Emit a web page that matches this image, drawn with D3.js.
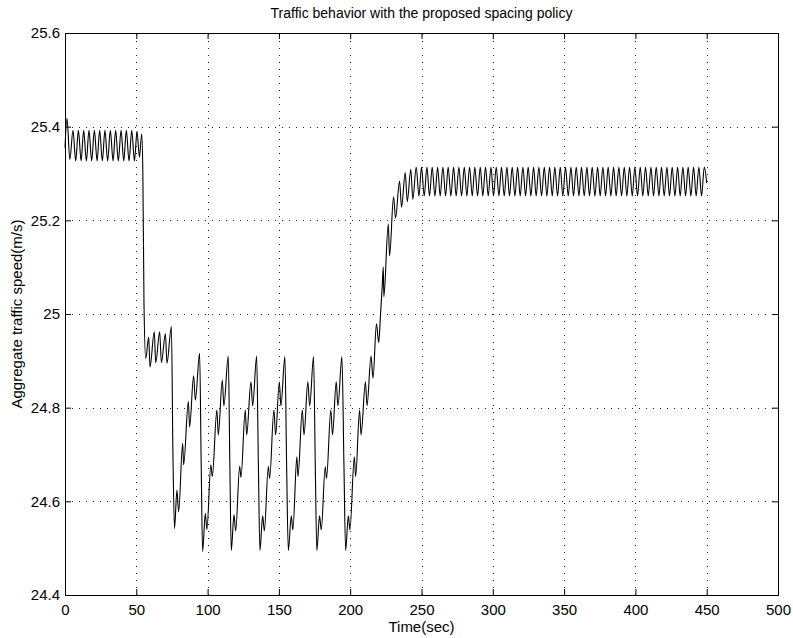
<!DOCTYPE html>
<html>
<head>
<meta charset="utf-8">
<script src="https://cdn.jsdelivr.net/npm/d3@7/dist/d3.min.js"></script>
<style>
  html, body { margin: 0; padding: 0; background: #fff; }
  svg { display: block; }
  text { font-family: "Liberation Sans", Arial, Helvetica, sans-serif; fill: #000; }
</style>
</head>
<body>
<svg id="chart" width="793" height="638"></svg>
<script>
// ---------- data ----------
const titleText = "Traffic behavior with the proposed spacing policy";
const xLabel = "Time(sec)";
const yLabel = "Aggregate traffic speed(m/s)";
const xTicks = [0, 50, 100, 150, 200, 250, 300, 350, 400, 450, 500];
const yTicks = [24.4, 24.6, 24.8, 25.0, 25.2, 25.4, 25.6];
const yTickLabels = ["24.4", "24.6", "24.8", "25", "25.2", "25.4", "25.6"];

// time (sec) of each turning point of the trace
const timeSec = [
  0.0, 1.4, 3.4, 5.6, 7.5, 9.4, 11.3, 13.1, 15.0, 16.8, 18.7, 20.6, 22.5, 24.3, 26.2, 28.0,
  29.9, 31.8, 33.7, 35.5, 37.4, 39.3, 41.2, 43.0, 44.9, 46.8, 48.7, 50.5, 52.2, 53.8, 54.6, 55.4, 56.6,
  58.7, 59.6, 62.6, 63.6, 66.4, 67.6, 70.4, 71.5, 74.6, 75.7, 76.8,
  78.5, 79.7, 82.5, 83.2, 86.5, 87.4, 90.2, 91.4, 94.4, 95.5, 96.5,
  98.4, 99.5, 102.3, 103.3, 106.5, 107.5, 110.3, 111.4, 114.5, 115.6, 116.6,
  118.5, 119.7, 122.5, 123.4, 126.4, 127.4, 130.4, 131.6, 134.4, 135.6, 136.7,
  138.6, 139.8, 142.6, 143.5, 146.5, 147.7, 150.3, 151.4, 154.2, 155.4, 156.6,
  158.7, 159.8, 162.6, 163.4, 166.4, 167.6, 170.3, 171.6, 174.3, 175.5, 176.6,
  178.5, 179.7, 182.5, 183.4, 186.4, 187.6, 190.2, 191.4, 194.2, 195.6, 196.8,
  198.7, 199.8, 202.9, 203.8, 206.6, 207.6, 210.7, 211.8, 214.6, 216.0, 218.4, 220.0,
  221.3, 222.5, 223.2, 223.6, 226.7, 227.6, 230.4, 231.8, 234.6, 236.0, 238.6, 240.0,
  242.5, 243.9, 246.3,
  248.2, 250.0, 251.9, 253.8, 255.6, 257.5, 259.4, 261.3, 263.1, 265.0, 266.9, 268.7,
  270.6, 272.5, 274.3, 276.2, 278.1, 280.0, 281.8, 283.7, 285.6, 287.4, 289.3, 291.2,
  293.0, 294.9, 296.8, 298.7, 300.5, 302.4, 304.3, 306.1, 308.0, 309.9, 311.7, 313.6,
  315.5, 317.4, 319.2, 321.1, 323.0, 324.8, 326.7, 328.6, 330.4, 332.3, 334.2, 336.1,
  337.9, 339.8, 341.7, 343.5, 345.4, 347.3, 349.1, 351.0, 352.9, 354.8, 356.6, 358.5,
  360.4, 362.2, 364.1, 366.0, 367.8, 369.7, 371.6, 373.5, 375.3, 377.2, 379.1, 380.9,
  382.8, 384.7, 386.5, 388.4, 390.3, 392.2, 394.0, 395.9, 397.8, 399.6, 401.5, 403.4,
  405.2, 407.1, 409.0, 410.9, 412.7, 414.6, 416.5, 418.3, 420.2, 422.1, 423.9, 425.8,
  427.7, 429.6, 431.4, 433.3, 435.2, 437.0, 438.9, 440.8, 442.6, 444.5, 446.4, 448.3, 450.0
];

// aggregate traffic speed (m/s) at those times
const speedMs = [
  25.355, 25.418, 25.330, 25.392, 25.327, 25.392, 25.327, 25.392, 25.327, 25.392, 25.327, 25.392, 25.327, 25.392, 25.327, 25.392,
  25.327, 25.392, 25.327, 25.392, 25.327, 25.392, 25.327, 25.392, 25.327, 25.392, 25.327, 25.390, 25.335, 25.385, 25.300, 25.020, 24.905,
  24.951, 24.887, 24.962, 24.896, 24.962, 24.896, 24.958, 24.895, 24.973, 24.700, 24.542,
  24.624, 24.578, 24.724, 24.678, 24.813, 24.759, 24.868, 24.816, 24.916, 24.680, 24.493,
  24.574, 24.540, 24.678, 24.653, 24.795, 24.742, 24.859, 24.804, 24.910, 24.680, 24.495,
  24.571, 24.537, 24.675, 24.651, 24.795, 24.742, 24.855, 24.804, 24.910, 24.680, 24.495,
  24.569, 24.537, 24.675, 24.649, 24.795, 24.742, 24.855, 24.804, 24.909, 24.680, 24.495,
  24.569, 24.539, 24.695, 24.653, 24.795, 24.742, 24.855, 24.804, 24.909, 24.680, 24.495,
  24.569, 24.539, 24.674, 24.649, 24.795, 24.742, 24.855, 24.804, 24.909, 24.680, 24.495,
  24.569, 24.539, 24.695, 24.653, 24.795, 24.742, 24.855, 24.804, 24.910, 24.863, 24.979, 24.939,
  25.001, 25.062, 25.101, 25.037, 25.192, 25.124, 25.250, 25.205, 25.284, 25.228, 25.302, 25.240,
  25.309, 25.245, 25.314,
  25.252, 25.314, 25.252, 25.314, 25.252, 25.314, 25.252, 25.314, 25.252, 25.314, 25.252, 25.314,
  25.252, 25.314, 25.252, 25.314, 25.252, 25.314, 25.252, 25.314, 25.252, 25.314, 25.252, 25.314,
  25.252, 25.314, 25.252, 25.314, 25.252, 25.314, 25.252, 25.314, 25.252, 25.314, 25.252, 25.314,
  25.252, 25.314, 25.252, 25.314, 25.252, 25.314, 25.252, 25.314, 25.252, 25.314, 25.252, 25.314,
  25.252, 25.314, 25.252, 25.314, 25.252, 25.314, 25.252, 25.314, 25.252, 25.314, 25.252, 25.314,
  25.252, 25.314, 25.252, 25.314, 25.252, 25.314, 25.252, 25.314, 25.252, 25.314, 25.252, 25.314,
  25.252, 25.314, 25.252, 25.314, 25.252, 25.314, 25.252, 25.314, 25.252, 25.314, 25.252, 25.314,
  25.252, 25.314, 25.252, 25.314, 25.252, 25.314, 25.252, 25.314, 25.252, 25.314, 25.252, 25.314,
  25.252, 25.314, 25.252, 25.314, 25.252, 25.314, 25.252, 25.314, 25.252, 25.314, 25.252, 25.314, 25.280
];

// ---------- drawing ----------
(function () {
  const svg = d3.select("#chart");
  const pL = 65, pR = 778, pT = 33, pB = 595;

  const x = d3.scaleLinear().domain([0, 500]).range([pL, pR]);
  const y = d3.scaleLinear().domain([24.4, 25.6]).range([pB, pT]);

  // grid (dotted)
  const grid = svg.append("g").attr("stroke", "#222").attr("stroke-width", 1)
    .attr("stroke-dasharray", "1,6").attr("shape-rendering", "crispEdges");
  grid.selectAll("line.vx").data(xTicks.slice(1, -1)).join("line")
    .attr("x1", d => Math.round(x(d)) + 0.5).attr("x2", d => Math.round(x(d)) + 0.5)
    .attr("y1", pB).attr("y2", pT);
  grid.selectAll("line.hy").data(yTicks.slice(1, -1)).join("line")
    .attr("x1", pL).attr("x2", pR)
    .attr("y1", d => Math.round(y(d)) + 0.5).attr("y2", d => Math.round(y(d)) + 0.5);

  // data line
  const pts = timeSec.map((t, i) => [t, speedMs[i]]);
  svg.append("path")
    .datum(pts)
    .attr("fill", "none")
    .attr("stroke", "#000")
    .attr("stroke-width", 1.1)
    .attr("d", d3.line().x(d => x(d[0])).y(d => y(d[1])).curve(d3.curveMonotoneX));

  // axes with inward ticks
  const fontSize = 15;
  const axB = svg.append("g").attr("transform", `translate(0,${pB})`)
    .call(d3.axisBottom(x).tickValues(xTicks).tickFormat(d3.format("d")).tickSize(-6).tickPadding(9));
  const axT = svg.append("g").attr("transform", `translate(0,${pT})`)
    .call(d3.axisTop(x).tickValues(xTicks).tickFormat("").tickSize(-6));
  const axL = svg.append("g").attr("transform", `translate(${pL},0)`)
    .call(d3.axisLeft(y).tickValues(yTicks).tickFormat((d, i) => yTickLabels[i]).tickSize(-6).tickPadding(5));
  const axR = svg.append("g").attr("transform", `translate(${pR},0)`)
    .call(d3.axisRight(y).tickValues(yTicks).tickFormat("").tickSize(-6));

  [axB, axT, axL, axR].forEach(g => {
    g.select(".domain").remove();
    g.selectAll("line").attr("stroke", "#000");
    g.selectAll("text").attr("font-size", fontSize)
      .attr("font-family", "'Liberation Sans', Arial, Helvetica, sans-serif").attr("fill", "#000");
  });

  // box
  svg.append("rect")
    .attr("x", pL + 0.5).attr("y", pT + 0.5)
    .attr("width", pR - pL).attr("height", pB - pT)
    .attr("fill", "none").attr("stroke", "#000").attr("stroke-width", 1)
    .attr("shape-rendering", "crispEdges");

  // title and labels
  svg.append("text").attr("x", (pL + pR) / 2).attr("y", 18)
    .attr("text-anchor", "middle").attr("font-size", 14).text(titleText);
  svg.append("text").attr("x", (pL + pR) / 2).attr("y", 632)
    .attr("text-anchor", "middle").attr("font-size", fontSize).text(xLabel);
  svg.append("text")
    .attr("transform", `translate(22,${(pT + pB) / 2}) rotate(-90)`)
    .attr("text-anchor", "middle").attr("font-size", fontSize).text(yLabel);
})();
</script>
</body>
</html>
